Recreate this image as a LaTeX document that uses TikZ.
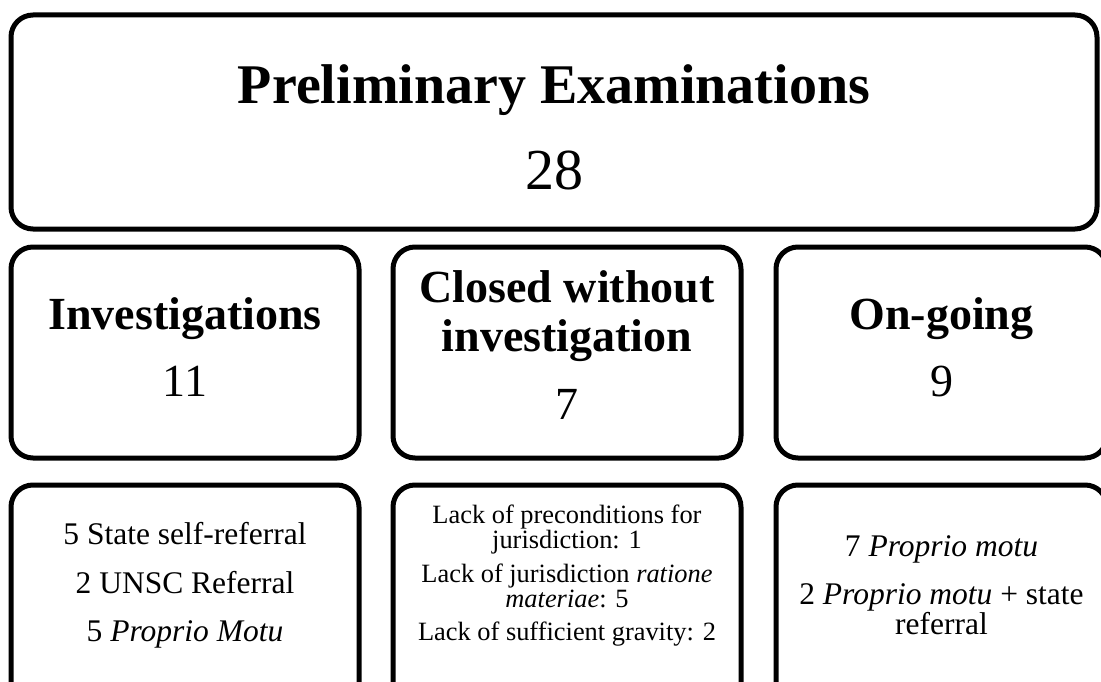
\documentclass[tikz,border=0pt]{standalone}
\usepackage{fontspec}
\setmainfont{Liberation Serif}
\usetikzlibrary{positioning}

% invisible strut that pushes a node text up or down
\newcommand{\lift}[1]{\rule[-#1]{0pt}{1pt}}
\newcommand{\sink}[1]{\rule{0pt}{#1}}

\begin{document}
\begin{tikzpicture}[
    x=1pt, y=-1pt,
    node distance=22pt and 29pt,
    box/.style={
        rectangle,
        draw,
        line width=5pt,
        rounded corners=22pt,
        align=center,
        inner sep=0pt
    },
    head/.style={box, minimum width=348pt, minimum height=211pt,
        font=\fontsize{46}{49}\selectfont},
    detail/.style={box, minimum width=348pt, minimum height=225pt,
        font=\fontsize{31.5}{30}\selectfont}
]

\clip (0,0) rectangle (1101,682);

\node[box, minimum width=1086pt, minimum height=214pt,
    font=\fontsize{56}{60}\selectfont] (prelim) at (554,122)
    {\sink{50pt}\textbf{Preliminary Examinations}\\[26pt]{\fontsize{58}{60}\selectfont 28}};

\node[head, below right=13pt and 0pt of prelim.south west, anchor=north west] (invest)
    {\textbf{Investigations}\\[18pt]11\lift{10pt}};
\node[head, right=of invest] (closed)
    {\textbf{Closed without}\\\textbf{investigation}\\[19pt]7\lift{14pt}};
\node[head, right=30pt of closed, minimum width=331pt] (ongoing)
    {\textbf{On-going}\\[18pt]9\lift{10pt}};

\node[detail, below=of invest] (invest-det)
    {5 State self-referral\\[18.5pt]2 UNSC Referral\\[18.5pt]5 \textit{Proprio Motu}\lift{31pt}};
\node[detail, below=of closed, font=\fontsize{26.4}{25}\selectfont] (closed-det)
    {Lack of preconditions for\\jurisdiction: 1\\[9pt]Lack of jurisdiction \textit{ratione}\\\textit{materiae}: 5\\[8pt]Lack of sufficient gravity: 2\lift{50pt}};
\node[detail, below=of ongoing, minimum width=331pt] (ongoing-det)
    {7 \textit{Proprio motu}\\[18pt]2 \textit{Proprio motu} + state\\referral\lift{24pt}};

\end{tikzpicture}
\end{document}
